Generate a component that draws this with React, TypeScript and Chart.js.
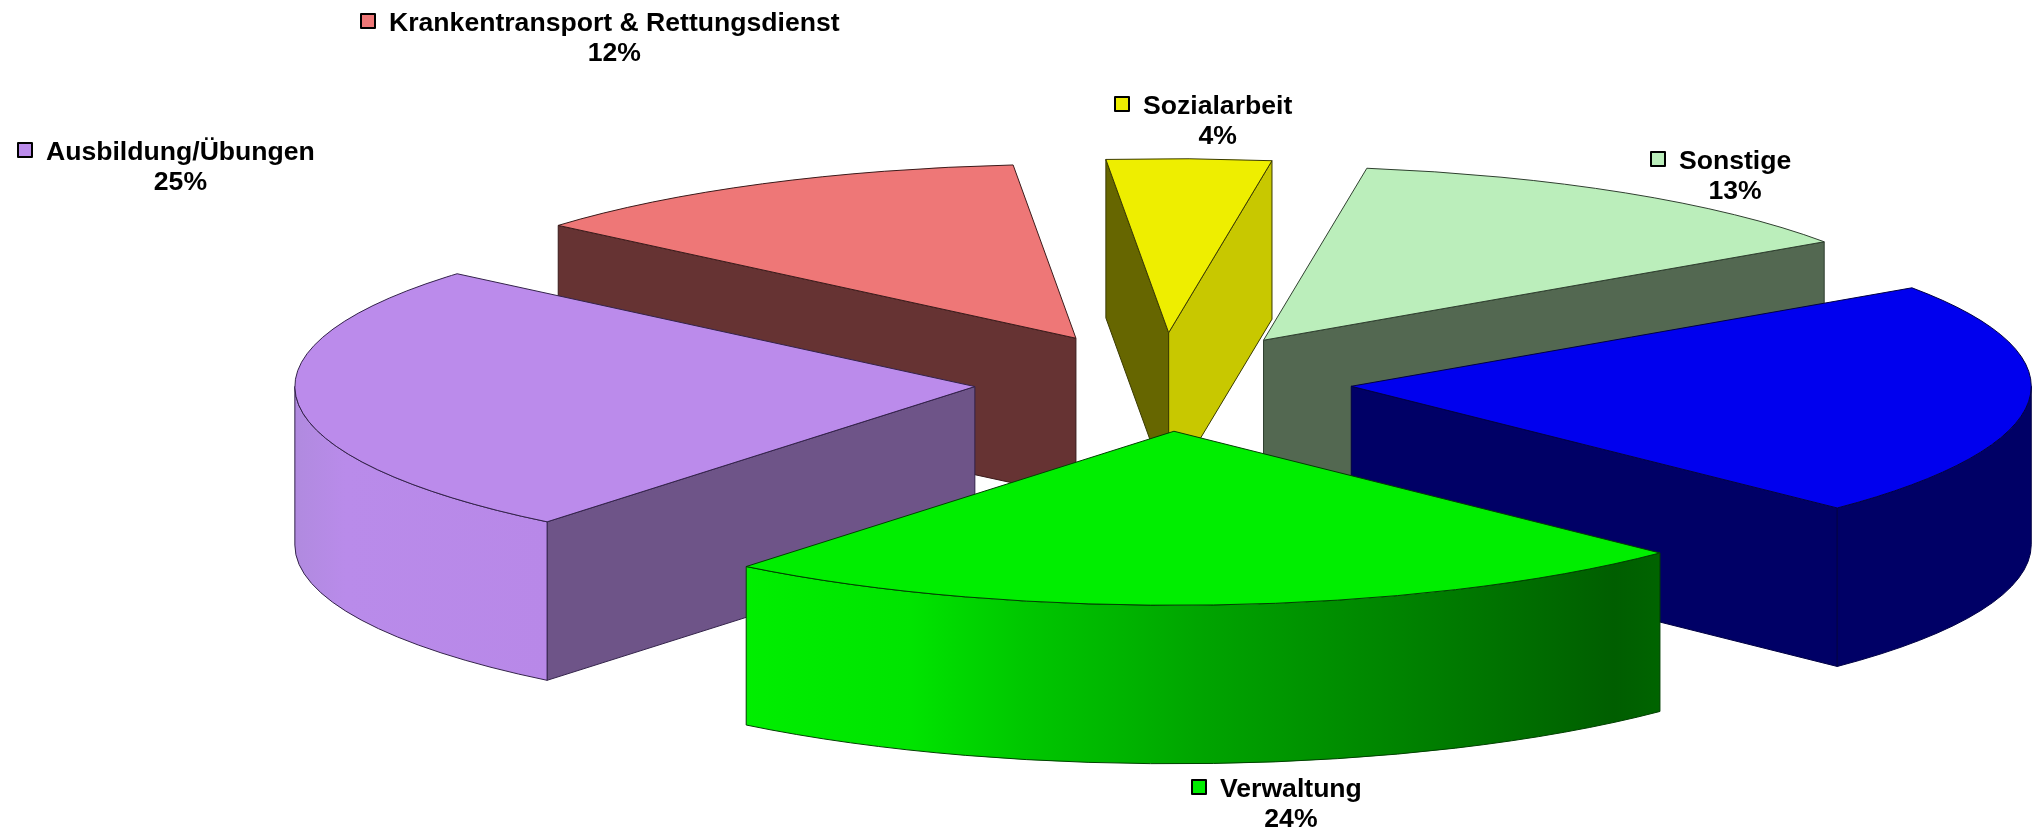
import React, { useEffect, useRef } from "react";
import { Chart, registerables } from "chart.js";

Chart.register(...registerables);

const categories = ["Sozialarbeit", "Sonstige", "", "Verwaltung", "Ausbildung/Übungen", "Krankentransport & Rettungsdienst"];
const shares = [3.9, 13.0, 21.9, 23.5, 25.4, 12.3];
const topColors = ["#EEEE00", "#BBEEBB", "#0000EE", "#00EE00", "#BB8BEB", "#EE7777"];
const startCutColors = ["#666600", "#536851", "#000066", "#006000", "#6E5488", "#663333"];
const endCutColors = ["#C8C800", "#536851", "#000066", "#006000", "#6E5488", "#663333"];
const edgeColors = ["#3a3a00", "#2f3f2f", "#000044", "#004000", "#33224a", "#3a1a1a"];
const wallStops: [number, string][][] = [
  [],
  [],
  [[0, "#000066"], [1, "#000066"]],
  [[0, "#00EE00"], [0.18, "#00E400"], [0.3, "#00C800"], [0.5, "#00A400"], [0.75, "#007E00"], [0.95, "#005E00"], [1, "#006400"]],
  [[0, "#B08ADF"], [0.2, "#B98BEA"], [1, "#B888E8"]],
  [],
];
// Text position of each outside label: left edge of the name, centre line of the name.
const labelAnchors: ([number, number] | null)[] = [
  [1143, 105], [1679, 160], null, [1220, 788], [46, 151], [389, 22],
];

const VIEW = { cx: 1163, cy: 382, rx: 680, ry: 174, depth: 158.5, explodeX: 0.98 };
const FONT = 'bold 26.6px "Liberation Sans", Arial, sans-serif';
const EXPLODE = 300;

const pie3d = {
  id: "pie3d",
  beforeDatasetsDraw(chart: any) {
    const ctx: CanvasRenderingContext2D = chart.ctx;
    const arcs: any[] = chart.getDatasetMeta(0).data;
    const slices = arcs.map((arc, i) => {
      const s = arc.startAngle;
      const e = arc.endAngle;
      const mid = (s + e) / 2;
      const frac = (arc.options.offset || 0) / 4 / arc.outerRadius;
      return {
        i, s, e, mid,
        x: VIEW.cx + Math.cos(mid) * frac * VIEW.rx * VIEW.explodeX,
        y: VIEW.cy + Math.sin(mid) * frac * VIEW.ry,
        fill: arc.options.backgroundColor,
        edge: arc.options.borderColor,
      };
    });
    const order = [...slices].sort((a, b) => Math.sin(a.mid) - Math.sin(b.mid));
    const px = (sl: any, a: number) => sl.x + Math.cos(a) * VIEW.rx;
    const py = (sl: any, a: number) => sl.y + Math.sin(a) * VIEW.ry;

    ctx.save();
    ctx.lineWidth = 1;
    ctx.lineJoin = "round";
    for (const sl of order) {
      ctx.strokeStyle = sl.edge;
      const cut = (a: number, color: string) => {
        ctx.beginPath();
        ctx.moveTo(sl.x, sl.y);
        ctx.lineTo(px(sl, a), py(sl, a));
        ctx.lineTo(px(sl, a), py(sl, a) + VIEW.depth);
        ctx.lineTo(sl.x, sl.y + VIEW.depth);
        ctx.closePath();
        ctx.fillStyle = color;
        ctx.fill();
        ctx.stroke();
      };
      if (-Math.cos(sl.s) > 0) cut(sl.s, startCutColors[sl.i]);
      if (Math.cos(sl.e) > 0) cut(sl.e, endCutColors[sl.i]);

      const a0 = Math.max(sl.s, 0);
      const a1 = Math.min(sl.e, Math.PI);
      if (a1 > a0) {
        const xs: number[] = [];
        for (let k = 0; k <= 60; k++) xs.push(px(sl, a0 + ((a1 - a0) * k) / 60));
        const left = Math.min(...xs);
        const right = Math.max(...xs);
        const g = ctx.createLinearGradient(left, 0, right, 0);
        for (const [o, c] of wallStops[sl.i]) g.addColorStop(o, c);
        ctx.beginPath();
        ctx.ellipse(sl.x, sl.y, VIEW.rx, VIEW.ry, 0, a0, a1);
        ctx.lineTo(px(sl, a1), py(sl, a1) + VIEW.depth);
        ctx.ellipse(sl.x, sl.y + VIEW.depth, VIEW.rx, VIEW.ry, 0, a1, a0, true);
        ctx.closePath();
        ctx.fillStyle = g;
        ctx.fill();
        ctx.stroke();
      }

      ctx.beginPath();
      ctx.moveTo(sl.x, sl.y);
      ctx.ellipse(sl.x, sl.y, VIEW.rx, VIEW.ry, 0, sl.s, sl.e);
      ctx.closePath();
      ctx.fillStyle = sl.fill;
      ctx.fill();
      ctx.stroke();
    }

    ctx.font = FONT;
    ctx.textBaseline = "middle";
    ctx.fillStyle = "#000";
    labelAnchors.forEach((anchor, i) => {
      if (!anchor) return;
      const [x, y] = anchor;
      const name = categories[i];
      const w = ctx.measureText(name).width;
      ctx.textAlign = "left";
      ctx.fillStyle = topColors[i];
      ctx.fillRect(x - 28, y - 8, 14, 14);
      ctx.strokeStyle = "#000";
      ctx.lineWidth = 2;
      ctx.strokeRect(x - 28, y - 8, 14, 14);
      ctx.fillStyle = "#000";
      ctx.fillText(name, x, y + 2);
      ctx.textAlign = "center";
      ctx.fillText(`${Math.round(shares[i])}%`, x + w / 2, y + 32);
    });
    ctx.restore();
    return false;
  },
};

export default function App() {
  const ref = useRef<HTMLCanvasElement>(null);
  useEffect(() => {
    const chart = new Chart(ref.current!, {
      type: "pie",
      data: {
        labels: categories,
        datasets: [
          {
            data: shares,
            backgroundColor: topColors,
            borderColor: edgeColors,
            offset: EXPLODE,
          },
        ],
      },
      options: {
        animation: false,
        responsive: false,
        rotation: -5.3,
        plugins: { legend: { display: false }, tooltip: { enabled: false } },
      },
      plugins: [pie3d],
    } as any);
    return () => chart.destroy();
  }, []);
  return (
    <div style={{ position: "absolute", left: 0, top: 0, width: 2038, height: 831 }}>
      <canvas ref={ref} width={2038} height={831} style={{ display: "block" }} />
    </div>
  );
}
